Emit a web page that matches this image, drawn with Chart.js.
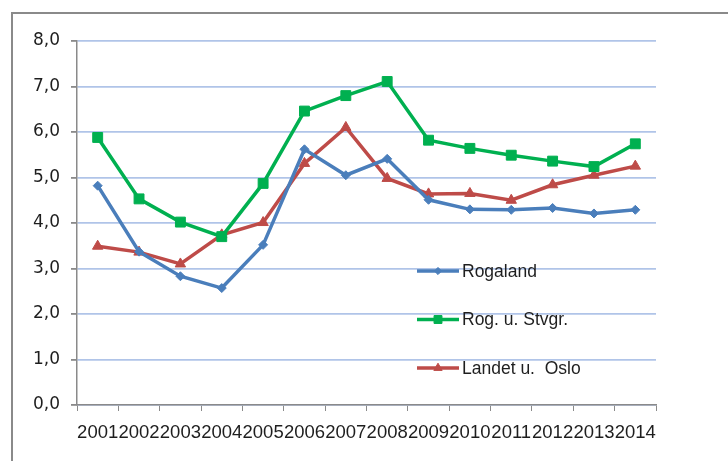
<!DOCTYPE html>
<html>
<head>
<meta charset="utf-8">
<script src="https://cdn.jsdelivr.net/npm/chart.js@4/dist/chart.umd.min.js"></script>
<style>
  html, body { margin: 0; padding: 0; background: #fff; }
  #wrap { position: relative; width: 728px; height: 461px; overflow: hidden; }
  #frame { position: absolute; left: 11px; top: 12px; width: 760px; height: 500px; border: 2px solid #8a8a8a; box-sizing: border-box; }
  canvas { position: absolute; left: 0; top: 0; }
</style>
</head>
<body>
<div id="wrap">
  <div id="frame"></div>
  <canvas id="c" width="728" height="461"></canvas>
</div>
<script>
const years = ['2001','2002','2003','2004','2005','2006','2007','2008','2009','2010','2011','2012','2013','2014'];
const rogaland = [4.82, 3.37, 2.83, 2.57, 3.52, 5.62, 5.05, 5.41, 4.51, 4.30, 4.29, 4.33, 4.21, 4.29];
const rogUStvgr = [5.88, 4.53, 4.02, 3.70, 4.87, 6.46, 6.80, 7.11, 5.82, 5.64, 5.49, 5.36, 5.24, 5.74];
const landetUOslo = [3.49, 3.36, 3.10, 3.74, 4.01, 5.31, 6.10, 4.98, 4.64, 4.65, 4.50, 4.84, 5.05, 5.25];
const seriesNames = ['Rogaland', 'Rog. u. Stvgr.', 'Landet u.  Oslo'];
const yTicks = [0, 1, 2, 3, 4, 5, 6, 7, 8];

const insideLegend = {
  id: 'insideLegend',
  afterDraw(chart) {
    const ctx = chart.ctx;
    const ds = chart.data.datasets;
    const x0 = 417, x1 = 459, tx = 462;
    const rows = [271, 319.5, 368];
    ctx.save();
    ds.forEach((d, i) => {
      const y = rows[i];
      ctx.strokeStyle = d.borderColor;
      ctx.lineWidth = 3.5;
      ctx.beginPath();
      ctx.moveTo(x0, y);
      ctx.lineTo(x1, y);
      ctx.stroke();
      ctx.fillStyle = d.pointBackgroundColor;
      ctx.strokeStyle = d.pointBorderColor;
      ctx.lineWidth = 1;
      Chart.helpers.drawPoint(ctx, {pointStyle: d.pointStyle, rotation: 0, borderWidth: 1, radius: d.pointRadius * 0.8}, (x0 + x1) / 2, y);
      ctx.fillStyle = '#1e1e1e';
      ctx.font = '17.5px "Liberation Sans", Arial, sans-serif';
      ctx.textBaseline = 'middle';
      ctx.textAlign = 'left';
      ctx.fillText(d.label, tx, y + 1);
    });
    ctx.restore();
  }
};

function mk(label, data, color, style, radius) {
  return {
    label, data,
    borderColor: color, backgroundColor: color,
    pointBackgroundColor: color, pointBorderColor: color,
    borderWidth: 3.5, pointStyle: style, pointRadius: radius, pointBorderWidth: 1,
    tension: 0, fill: false
  };
}

new Chart(document.getElementById('c'), {
  type: 'line',
  data: {
    labels: years,
    datasets: [
      mk(seriesNames[0], rogaland, '#4a7ebb', 'rectRot', 4.5),
      mk(seriesNames[1], rogUStvgr, '#00b050', 'rect', 7),
      mk(seriesNames[2], landetUOslo, '#be4b48', 'triangle', 6)
    ]
  },
  options: {
    responsive: false,
    animation: false,
    devicePixelRatio: 1,
    layout: { padding: { left: 0, right: 72, top: 41, bottom: 0 } },
    plugins: { legend: { display: false }, tooltip: { enabled: false } },
    scales: {
      x: {
        offset: true,
        grid: { display: true, drawOnChartArea: false, drawTicks: true, tickLength: 6, color: '#8a8a8a', offset: true },
        border: { display: true, color: '#8a8a8a', width: 1.5 },
        ticks: {
          autoSkip: false, maxRotation: 0, minRotation: 0, padding: 11,
          color: '#1e1e1e', font: { family: '"Liberation Sans", Arial, sans-serif', size: 18.5 }
        },
        afterFit(s) { s.height = 56; }
      },
      y: {
        min: 0, max: 8,
        afterBuildTicks(s) { s.ticks = yTicks.map(v => ({ value: v })); },
        grid: { color: '#b0c4e8', lineWidth: 1.8, tickColor: '#8a8a8a', tickLength: 6 },
        border: { display: true, color: '#8a8a8a', width: 1.5 },
        ticks: {
          padding: 11, color: '#1e1e1e',
          font: { family: '"DejaVu Sans", sans-serif', size: 17 },
          callback: v => Number(v).toFixed(1).replace('.', ',')
        },
        afterFit(s) { s.width = 77; }
      }
    }
  },
  plugins: [insideLegend]
});
</script>
</body>
</html>
